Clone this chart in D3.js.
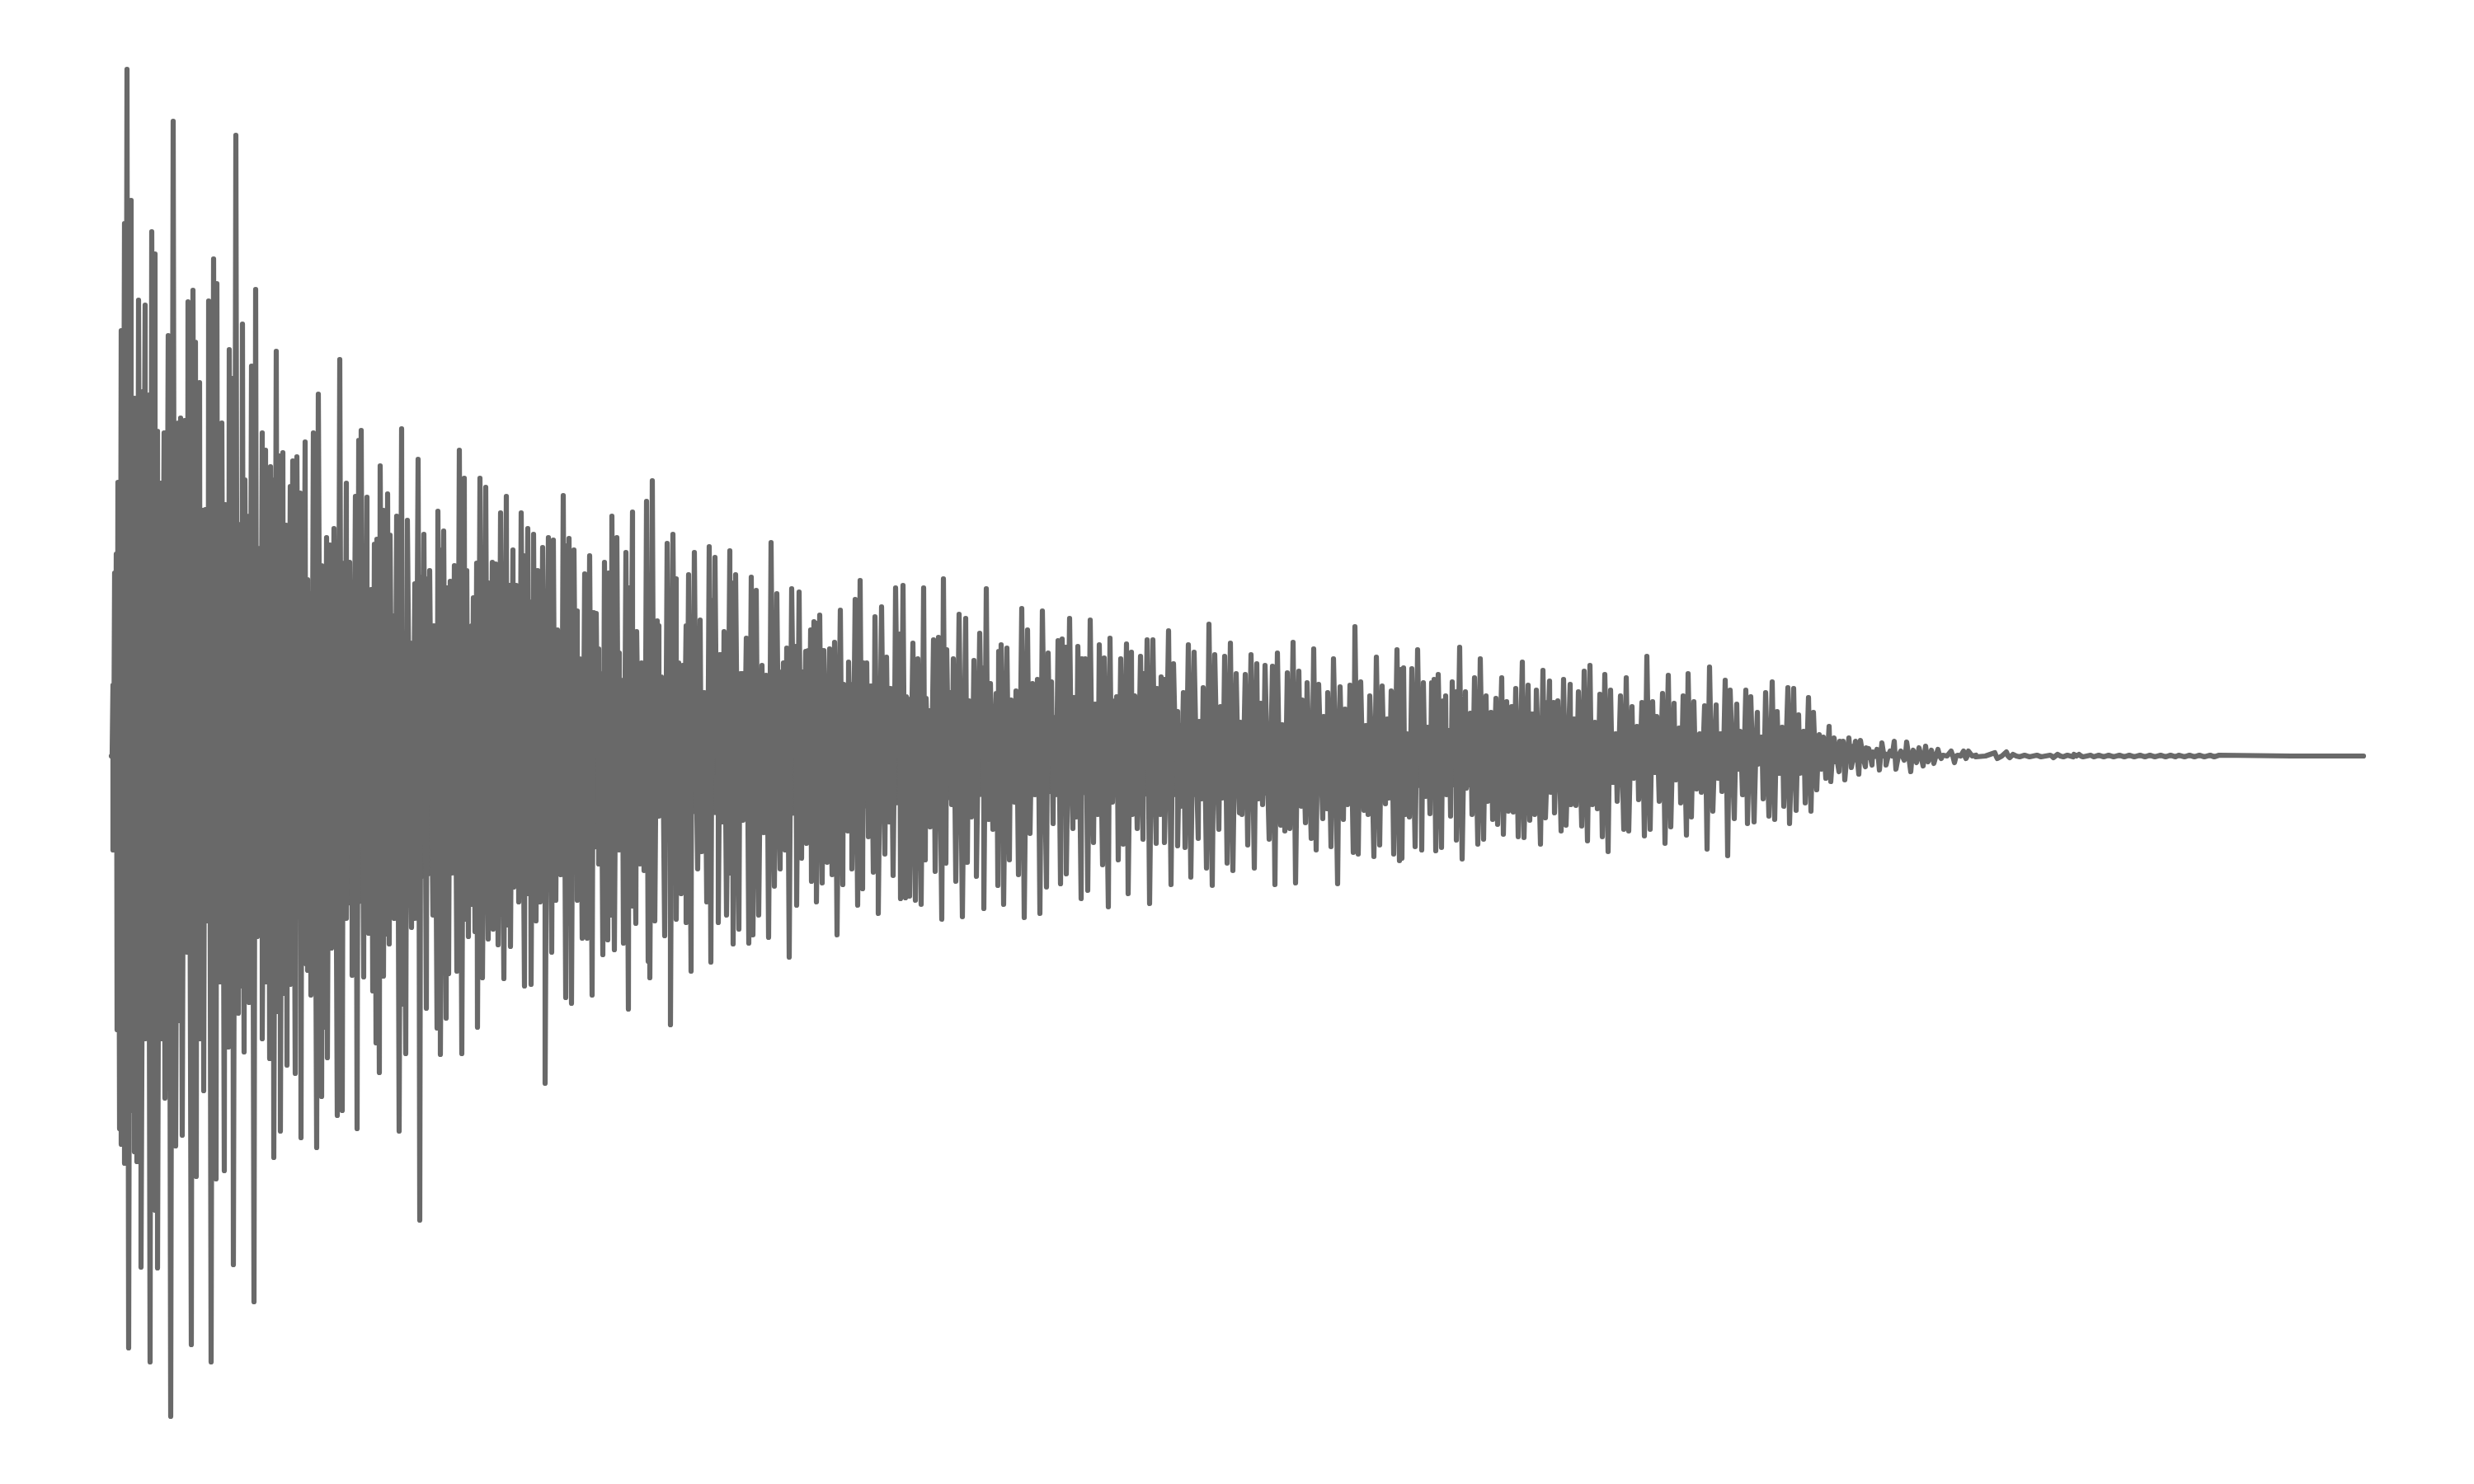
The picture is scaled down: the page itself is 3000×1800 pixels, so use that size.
<!DOCTYPE html>
<html>
<head>
<meta charset="utf-8">
<script src="https://cdn.jsdelivr.net/npm/d3@7"></script>
<style>
body { margin: 0; background: #fff; }
</style>
</head>
<body>
<script>
// positive peaks of the waveform: sample time and amplitude
const upTime = [2,4,6,8,12,16,19,24,28,33,36,41,44,49,53,56,60,64,69,75,78,81,84,89,93,99,102,104,107,111,114,118,124,128,130,134,138,143,147,151,155,159,162,165,170,175,180,183,187,190,193,196,200,204,205,208,212,214,217,220,225,229,232,235,238,241,245,251,255,257,261,265,270,277,280,282,285,289,292,296,300,303,307,310,315,319,322,326,330,332,335,338,342,346,352,359,365,368,372,376,379,
383,386,391,396,399,403,407,411,416,422,428,431,434,437,439,443,447,454,459,462,466,472,479,483,487,491,493,497,502,505,508,512,517,520,523,526,530,536,541,543,548,553,555,561,565,568,574,580,585,588,591,593,598,603,607,613,616,619,624,628,632,637,643,649,652,656,662,664,667,674,678,681,685,688,691,693,697,700,704,707,714,719,725,729,732,736,739,743,750,753,757,763,766,770,776,782,789,794,800,807,812,815,819,825,830,834,838,842,845,848,852,855,859,864,871,877,884,888,894,898,902,908,912,916,921,926,930,934,940,945,951,956,960,964,
965,972,978,985,988,992,997,1003,1009,1013,1017,1021,1028,1036,1040,1046,1049,1053,1058,1061,1066,1073,1076,1079,1086,1091,1097,1104,1111,1117,1123,1129,1136,1140,1143,1148,1153,1157,1162,1167,1172,1177,1181,1187,1193,1198,1204,1211,1217,1219,1224,1231,1237,1241,1248,1252,1256,1263,1268,1273,1277,1282,1288,1293,1300,1306,1313,1319,1324,1331,1338,1345,1350,1357,1364,1369,1375,1382,1389,1394,1399,1408,1414,1420,1426,1433,1440,1444,1450,1458,1464,1470,1475,1482,1490,1496,1502,1508,1515,1521,1526,1534,1541,1547,1552,1559,1564,
1567,1571,1577,1584,1588,1591,1596,1601,1604,1609,1615,1618,1622,1626,1631,1635,1642,1648,1653,1660,1667,1673,1679,1686,1692,1698,1703,1711,1718,1723,1728,1736,1739,1744,1749,1754,1761,1769,1774,1779,1786,1793,1799,1805,1811,1818,1824,1830,1837,1844,1850,1856,1862,1869,1874,1881,1888,1895,1901,1906,1912,1919,1926,1932,1938,1946,1951,1957,1963,1971,1975,1982,1988,1996,2001,2006,2014,2020,2026,2033,2040,2046,2052,2058,2064,2071,2076,2083,2089,2096,2100,2107,2110,2115,2121,2128,2131,2136,2141,2147,2152,2157,2162,
2170,2177,2185,2192,2200,2207,2215,2221,2231,2239,2246,2252,2261,2284,2298,2306,2320,2335,2351,2360,2372,2380,2386,2400,2410,2422,2435,2447,2460,2472,2485,2497,2507,2520,2532,2545,2556,2731]
const upAmp = [86,222,245,332,516,646,833,674,434,553,442,547,438,636,609,394,331,392,510,770,305,404,410,407,551,565,502,417,453,298,299,552,603,573,268,404,305,493,458,753,281,524,335,291,473,566,252,392,371,258,351,335,491,364,321,368,280,280,327,358,363,319,278,381,214,197,392,439,231,203,265,256,276,481,214,234,331,235,132,315,383,395,184,314,202,257,263,352,298,233,318,268,170,291,397,286,137,209,360,217,269,
215,225,158,297,250,273,204,212,231,371,337,225,138,158,192,234,337,326,210,235,233,295,315,207,250,207,189,295,243,276,187,269,225,222,253,189,265,262,153,138,316,255,264,250,176,118,221,243,174,173,130,100,235,222,291,265,125,92,247,204,296,151,113,309,164,334,164,158,96,258,164,269,215,113,109,110,158,220,169,247,165,77,254,189,241,123,123,151,249,210,220,100,100,143,217,201,110,98,259,197,102,113,131,203,133,199,102,127,128,153,163,161,171,128,130,138,177,87,114,87,190,213,113,113,85,169,92,181,120,82,204,148,207,72,
70,137,118,204,70,55,141,144,215,129,77,118,172,167,67,116,67,149,107,203,88,76,127,135,131,68,79,179,153,88,93,176,125,90,47,140,142,132,167,71,133,118,118,165,63,135,119,143,67,72,118,136,126,73,121,100,141,141,82,96,93,152,112,54,77,135,126,42,83,160,123,60,121,137,100,41,99,123,112,64,110,109,125,38,101,138,103,68,89,130,87,48,77,118,84,57,86,157,90,37,73,120,85,45,79,129,105,
107,27,106,129,80,89,35,89,93,99,67,73,31,90,78,132,78,52,95,118,73,53,70,95,66,60,82,114,86,51,80,104,65,91,65,67,93,87,45,78,103,110,41,75,99,80,27,73,95,60,36,65,121,66,48,76,98,64,34,73,100,66,27,61,108,62,27,92,80,63,30,80,72,53,23,77,90,54,35,83,82,50,30,71,53,26,23,36,22,18,18,22,12,18,19,10,9,5,8,16,2,6,18,
6,17,7,10,12,7,8,1,6,1,6,6,1,4,5,2,1,1,1,2,1,2,2,1,1,1,1,1,1,1,1,1,1,1,1,1,1,0]

// negative peaks of the waveform, as depth below zero
const downTime = [2,7,10,12,16,21,24,28,31,36,41,47,53,56,60,65,72,78,82,86,92,97,103,108,112,117,121,127,132,137,142,148,154,158,161,167,173,177,183,187,192,197,202,205,209,213,217,223,230,236,238,242,249,255,259,262,267,274,280,285,292,298,306,310,312,317,321,325,330,333,337,343,349,353,357,364,368,374,382,
390,395,399,406,409,413,419,425,429,433,437,441,444,450,457,463,469,476,480,484,488,494,501,505,509,515,520,526,534,539,545,551,554,558,565,571,577,583,591,596,602,606,610,616,621,627,632,636,641,646,651,653,659,664,671,678,685,691,697,703,711,716,722,727,736,741,746,750,754,761,766,773,778,785,791,797,804,811,817,822,831,837,843,849,855,862,868,874,880,887,893,898,905,911,918,924,930,938,943,948,957,963,
965,968,975,982,987,993,999,1007,1012,1019,1024,1032,1038,1043,1049,1058,1064,1069,1075,1082,1089,1095,1100,1107,1114,1120,1126,1134,1142,1145,1151,1158,1166,1170,1176,1184,1191,1196,1202,1209,1214,1221,1227,1233,1238,1244,1251,1259,1267,1272,1277,1285,1293,1297,1302,1309,1318,1322,1328,1335,1343,1347,1353,1360,1368,1371,1378,1386,1391,1396,1404,1411,1418,1423,1429,1436,1443,1448,1455,1461,1469,1474,1479,1487,1494,1499,1506,1512,1519,1524,1531,1538,1545,1549,1555,1562,
1565,1569,1574,1581,1589,1594,1599,1606,1613,1619,1624,1631,1638,1643,1650,1657,1664,1669,1675,1681,1688,1694,1700,1706,1713,1720,1726,1733,1739,1745,1750,1758,1764,1770,1776,1783,1790,1796,1802,1808,1815,1821,1826,1834,1840,1846,1852,1859,1866,1872,1877,1884,1891,1897,1903,1910,1916,1922,1928,1935,1942,1948,1953,1960,1968,1973,1978,1984,1992,1997,2003,2010,2017,2023,2028,2035,2043,2048,2054,2061,2068,2074,2079,2085,2095,2102,2110,2119,2127,2135,2144,2152,2164,
2174,2182,2189,2197,2203,2210,2219,2235,2249,2261,2287,2302,2314,2326,2340,2355,2367,2379,2391,2404,2416,2428,2441,2453,2466,2478,2491,2503,2514,2526,2538,2550]
const downAmp = [114,332,452,471,494,718,430,480,492,620,343,735,551,621,343,415,801,473,321,460,238,714,510,343,406,200,735,513,274,503,353,617,312,279,359,299,662,219,343,274,367,487,310,455,288,375,277,385,463,252,260,290,475,413,329,366,233,436,430,197,266,452,268,192,215,285,348,384,267,216,228,197,455,301,361,208,197,563,306,
193,330,362,318,264,142,261,361,198,219,180,213,329,269,222,210,229,270,205,231,159,177,279,167,277,200,177,397,238,175,144,293,203,300,175,221,221,290,131,241,223,193,235,114,227,307,182,203,131,139,249,269,200,73,218,326,198,167,202,261,137,116,177,250,202,80,193,142,228,210,78,227,217,193,93,220,158,137,114,244,181,124,106,152,177,154,129,144,217,156,91,137,181,161,98,141,191,119,80,145,173,172,
76,170,175,180,126,86,140,198,130,59,152,195,129,74,146,185,77,89,157,180,126,56,144,196,94,47,191,159,82,47,155,143,88,74,173,163,105,71,132,183,56,126,107,167,71,88,101,179,106,71,105,156,109,61,111,147,100,52,136,157,89,51,130,139,69,71,108,136,52,59,101,156,84,91,88,154,61,81,100,114,76,64,110,155,77,59,117,119,66,71,122,108,58,51,119,127,
124,71,74,110,114,49,70,115,111,47,73,102,125,39,71,107,101,55,77,83,95,67,68,98,99,78,71,107,75,44,69,91,84,59,60,85,103,59,64,98,116,32,55,89,91,27,53,97,89,20,55,106,86,29,57,96,74,40,44,113,67,27,43,121,76,16,47,82,80,10,52,73,77,21,61,82,66,21,57,67,41,16,27,31,19,29,14,22,13,11,17,11,16,
5,19,8,12,7,9,3,8,3,1,3,2,1,1,1,2,1,1,1,1,1,1,1,1,1,1,1,1,1,1,1,1]

// solid body of the waveform between the peaks
const coreTime = [0,5,30,200,300,400,500,600,660,700,800,1000,1100,1200,1300,1400,1600,1700,1800,1900,2000,2100,2160]
const coreUp = [0,80,190,180,130,130,125,90,75,70,78,50,45,45,40,38,26,26,25,20,10,8,0]
const coreDown = [0,100,190,190,180,140,135,110,70,70,75,55,45,48,50,48,38,38,25,20,10,10,0]

const width = 3000
const height = 1800
const color = '#696969'

const x = d3.scaleLinear().domain([0, 2731]).range([135, 2866])
const y = d3.scaleLinear().domain([-900, 900]).range([1817, 17])

const svg = d3.select('body')
    .append('svg')
    .attr('width', width)
    .attr('height', height)

const peaks = [
    ...d3.zip(upTime, upAmp),
    ...d3.zip(downTime, downAmp).map(([t, a]) => [t, -a])
].sort((a, b) => a[0] - b[0])

// zigzag from peak to peak, crossing zero half way between them
const samples = [[0, 0]]
peaks.forEach(([t, a], i) => {
    const prev = i ? peaks[i - 1][0] : 0
    samples.push([(prev + t) / 2, 0], [t, a])
})

const core = d3.area()
    .x(d => x(d[0]))
    .y0(d => y(-d[2]))
    .y1(d => y(d[1]))

svg.append('path')
    .datum(d3.zip(coreTime, coreUp, coreDown))
    .attr('d', core)
    .attr('fill', color)

const wave = d3.line()
    .x(d => x(d[0]))
    .y(d => y(d[1]))

svg.append('path')
    .datum(samples)
    .attr('d', wave)
    .attr('fill', 'none')
    .attr('stroke', color)
    .attr('stroke-width', 6.2)
    .attr('stroke-linecap', 'round')
    .attr('stroke-linejoin', 'round')
</script>
</body>
</html>
